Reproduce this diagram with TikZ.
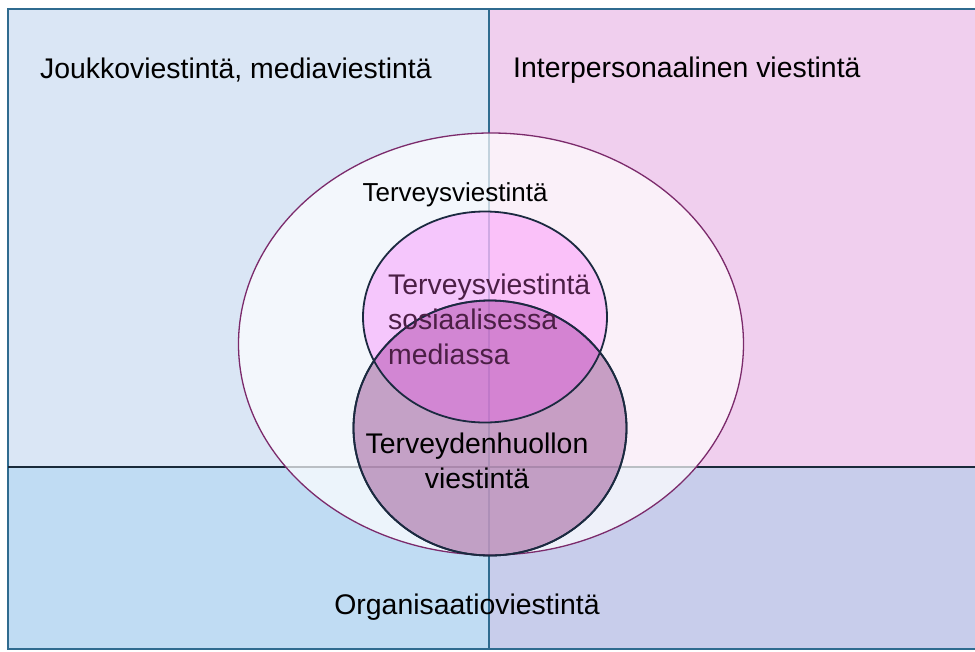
\documentclass[tikz,border=0pt]{standalone}
\usepackage{fontspec}
\setmainfont{Liberation Sans}
\usetikzlibrary{shapes.geometric}
\definecolor{qTL}{HTML}{DAE6F5}
\definecolor{qTR}{HTML}{F0CFEE}
\definecolor{qBL}{HTML}{C0DCF3}
\definecolor{qBR}{HTML}{C8CDEB}
\definecolor{frameblue}{HTML}{2F6B8F}
\definecolor{darkline}{HTML}{1A2A3A}
\definecolor{bigoutline}{HTML}{7B2A6B}
\definecolor{pinkfill}{RGB}{252,54,252}
\definecolor{mauvefill}{RGB}{158,91,154}
\definecolor{navyline}{HTML}{1B2A40}
\definecolor{textpurple}{HTML}{4B1F45}
\tikzset{
  lbl/.style={font=\fontsize{28.4}{35}\selectfont, text=black, inner sep=0pt},
  venn/.style={ellipse, inner sep=0pt, draw=navyline, line width=1.8pt},
}
\begin{document}
\begin{tikzpicture}[x=1pt,y=-1pt]
\useasboundingbox (0,0) rectangle (975,651);
\fill[white] (0,0) rectangle (975,651);
% quadrants
\fill[qTL] (8,9) rectangle (489,467);
\fill[qTR] (489,9) rectangle (980,467);
\fill[qBL] (8,467) rectangle (489,649);
\fill[qBR] (489,467) rectangle (980,649);
% frame lines
\draw[frameblue, line width=1.8pt] (980,9) -- (8,9) -- (8,649) -- (980,649);
\draw[frameblue, line width=1.4pt] (489,9) -- (489,649);
\draw[darkline, line width=2.2pt] (8,467) -- (980,467);
% big ellipse
\node[ellipse, inner sep=0pt, minimum width=505pt, minimum height=422pt,
      fill=white, fill opacity=0.7, draw=bigoutline, line width=1.3pt] (big) at (491,344) {};
% lower ellipse
\node[venn, minimum width=273pt, minimum height=255pt, fill=mauvefill, fill opacity=0.55] (care) at (490,428) {};
% upper circle
\node[venn, minimum width=244pt, minimum height=211pt, fill=pinkfill, fill opacity=0.25] (social) at (485,317) {};
\draw[navyline, line width=1.8pt] (care.center) ellipse [x radius=136.5pt, y radius=127.5pt];
% texts
\node[lbl, anchor=west] (mass) at (40,70) {Joukkoviestintä, mediaviestintä};
\node[lbl, anchor=west] (inter) at (513,70) {Interpersonaalinen viestintä};
\node[lbl, font=\fontsize{26}{32}\selectfont] (health) at (455,195) {Terveysviestintä};
\node[lbl, text=textpurple, anchor=north west, align=left] (socialtxt) at (388,274) {Terveysviestintä\\sosiaalisessa\\mediassa};
\node[lbl, align=center] (caretxt) at (477,461) {Terveydenhuollon\\viestintä};
\node[lbl] (org) at (467,607) {Organisaatioviestintä};
\end{tikzpicture}
\end{document}
